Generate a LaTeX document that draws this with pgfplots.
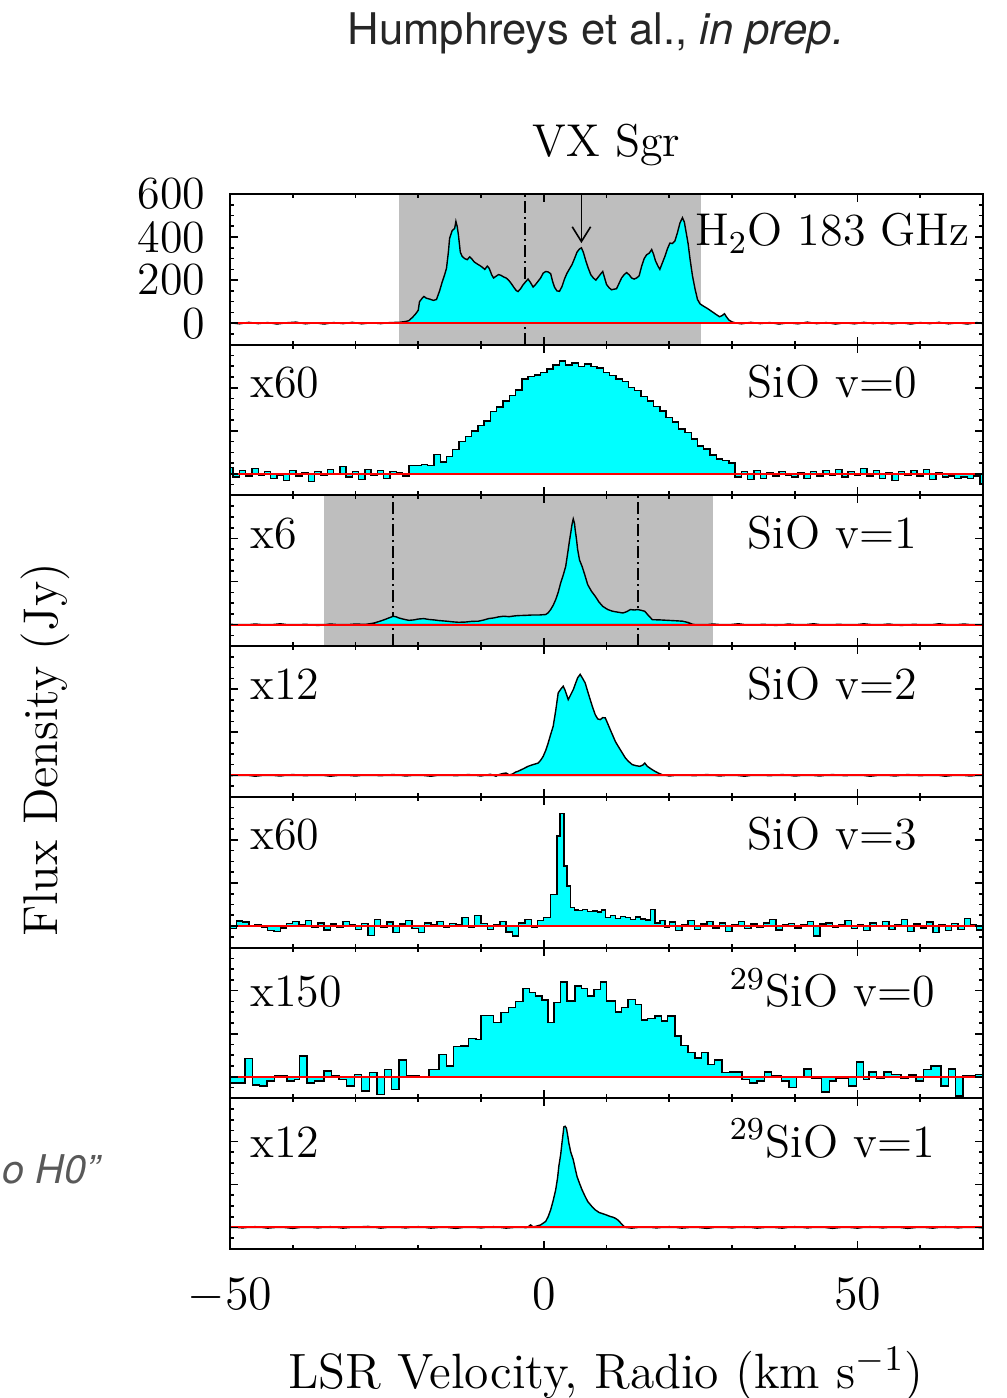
\documentclass[border=0pt]{standalone}
\usepackage{fontspec}
\newfontfamily\helv{TeX Gyre Heros}
\usepackage{pgfplots}
\pgfplotsset{compat=1.18}
\usetikzlibrary{arrows.meta}

\definecolor{bandgray}{RGB}{190,190,190}
\definecolor{specfill}{RGB}{0,255,255}
\newcommand\gfont{\fontsize{11.5}{13}\selectfont}

\pgfplotsset{
  spec panel/.style={
    at={(57.5pt,#1)}, anchor=north west,
    scale only axis, width=188.25pt, height=37.68pt,
    xmin=-50, xmax=70, ymin=-100, ymax=600,
    xtick={-50,0,50}, minor xtick={-40,-30,-20,-10,10,20,30,40,60},
    ytick={0,200,400,600},
    minor ytick={-50,50,100,150,250,300,350,450,500,550},
    xticklabels={}, yticklabels={},
    tick align=inside, xtick pos=both, ytick pos=both,
    major tick length=2pt, minor tick length=1pt,
    every tick/.append style={black, line width=0.4pt},
    axis line style={line width=0.5pt},
    axis on top, clip=true,
  },
  spectrum/.style={draw=black, fill=specfill, line width=0.35pt},
  histo/.style={draw=black, fill=specfill, line width=0.35pt, const plot mark left},
  zero line/.style={red, line width=0.5pt},
}
\tikzset{
  window/.style={dash pattern=on 3pt off 1pt on 0.5pt off 1pt, line width=0.4pt},
  lhs/.style={font=\gfont, anchor=base west, inner sep=0pt},
  rhs/.style={font=\gfont, anchor=base, inner sep=0pt},
}

\begin{document}
\begin{tikzpicture}
\path[use as bounding box] (0pt,0pt) rectangle (251.5pt,-349.5pt);

% ---------------- H2O 183 GHz ----------------
\begin{axis}[spec panel=-48.5pt,
  yticklabels={0,200,400,600},
  yticklabel style={font=\gfont, anchor=east, inner sep=0pt, xshift=-6pt}]
\fill[bandgray] (axis cs:-23,-100) rectangle (axis cs:25,600);
\draw[window] (axis cs:-3,-100) -- (axis cs:-3,600);
\addplot[spectrum] coordinates {
(-50,2) (-48.5,-3) (-47,4) (-45.5,-2) (-44,3) (-42.5,-4) (-41,2) (-39.5,5) (-38,-3)
(-36.5,2) (-35,-4) (-33.5,3) (-32,-2) (-30.5,4) (-29,-3) (-27.5,2) (-26,-2) (-24.5,3) (-23,4)
(-22,8) (-21.5,12) (-21,25) (-20.5,40) (-20,60) (-19.8,100) (-19.4,115) (-19.1,124) (-18.7,116)
(-18.2,112) (-17.6,106) (-17.1,110) (-16.6,150) (-16.2,190) (-15.8,225) (-15.5,255) (-15.2,330)
(-15,395) (-14.6,430) (-14.2,440) (-14,473) (-13.8,450) (-13.6,410) (-13.3,330) (-13,310)
(-12.6,300) (-12.2,295) (-11.8,308) (-11.5,300) (-11.1,285) (-10.6,275) (-10.2,268) (-9.8,260)
(-9.4,250) (-9,265) (-8.7,255) (-8.3,225) (-8,210) (-7.6,218) (-7.2,226) (-6.8,222) (-6.4,215)
(-6,210) (-5.6,200) (-5.2,185) (-4.8,168) (-4.4,152) (-4.1,147) (-3.7,160) (-3.3,178) (-2.9,192)
(-2.5,205) (-2.1,188) (-1.7,168) (-1.3,180) (-0.9,195) (-0.5,210) (-0.1,232) (0.3,240) (0.7,238)
(1.1,230) (1.4,195) (1.7,168) (2.1,150) (2.5,148) (2.9,170) (3.3,205) (3.7,232) (4.1,252)
(4.5,272) (4.9,300) (5.3,330) (5.7,345) (6.0,350) (6.3,330) (6.7,290) (7.1,255) (7.5,225)
(7.9,210) (8.3,200) (8.7,215) (9.1,230) (9.4,240) (9.7,210) (10,180) (10.4,165) (10.8,155)
(11.2,158) (11.6,160) (12,185) (12.4,210) (12.8,225) (13.2,235) (13.6,225) (14,210) (14.4,205)
(14.8,210) (15.2,220) (15.6,265) (16,300) (16.4,318) (16.8,325) (17.2,342) (17.5,320) (17.8,290)
(18.2,265) (18.5,250) (18.9,280) (19.3,310) (19.7,345) (20.1,372) (20.5,370) (20.9,382)
(21.3,420) (21.7,465) (22.1,490) (22.4,470) (22.7,420) (23,370) (23.3,300) (23.7,220) (24.1,160)
(24.5,110) (24.9,90) (25.3,82) (25.7,75) (26.1,68) (26.6,58) (27.1,48) (27.6,38) (28,30)
(28.4,35) (28.8,44) (29.1,30) (29.5,15) (30,6) (30.6,1)
(31.5,-3) (33,4) (34.5,-2) (36,3) (37.5,-4) (39,2) (40.5,-3) (42,5) (43.5,-2) (45,3) (46.5,-4)
(48,2) (49.5,-3) (51,4) (52.5,-2) (54,3) (55.5,-3) (57,2) (58.5,-4) (60,3) (61.5,-2) (63,4)
(64.5,-3) (66,2) (67.5,-4) (69,3) (70,-2)
} \closedcycle;
\addplot[zero line] coordinates {(-50,0) (70,0)};
\draw[line width=0.4pt, -{Straight Barb[length=3.7pt, width=4.6pt]}]
  (axis cs:6,600) -- (axis cs:6,372);
\node[rhs] at (rel axis cs:0.80,0.655) {H$_2$O 183 GHz};
\end{axis}

% ---------------- SiO v=0 ----------------
\begin{axis}[spec panel=-86.18pt]
\addplot[spectrum, const plot mark mid] coordinates {
(-50,30) (-49,-15) (-48,15) (-47,-10) (-46,25) (-45,-5) (-44,10) (-43,-20) (-42,-5) (-41,-30)
(-40,15) (-39,-10) (-38,5) (-37,-35) (-36,10) (-35,-5) (-34,20) (-33,0) (-32,35) (-31,-15)
(-30,10) (-29,-25) (-28,20) (-27,-5) (-26,15) (-25,-20) (-24,10) (-23,5) (-22,-10) (-21,40)
(-20,38) (-19,45) (-18,40) (-17,90) (-16,55) (-15,80) (-14,113) (-13,150) (-12,175) (-11,200)
(-10,225) (-9,245) (-8,290) (-7,310) (-6,338) (-5,365) (-4,390) (-3,440) (-2,452) (-1,460)
(0,470) (1,488) (2,505) (3,525) (4,505) (5,515) (6,500) (7,510) (8,498) (9,492)
(10,470) (11,458) (12,440) (13,428) (14,402) (15,388) (16,360) (17,338) (18,312) (19,292)
(20,262) (21,242) (22,208) (23,192) (24,162) (25,130) (26,115) (27,88) (28,70) (29,62)
(30,50) (31,-15) (32,10) (33,-25) (34,15) (35,-20) (36,5) (37,-10) (38,10) (39,-5)
(40,-15) (41,5) (42,-20) (43,10) (44,-10) (45,15) (46,-5) (47,20) (48,-15) (49,10)
(50,-5) (51,25) (52,-10) (53,15) (54,-20) (55,5) (56,-30) (57,10) (58,-5) (59,15)
(60,-10) (61,20) (62,-25) (63,5) (64,-15) (65,-10) (66,-20) (67,-15) (68,-20) (69,-10) (70,-45)
} \closedcycle;
\addplot[zero line] coordinates {(-50,0) (70,0)};
\node[lhs] at (rel axis cs:0.026,0.648) {x60};
\node[rhs] at (rel axis cs:0.80,0.648) {SiO v=0};
\end{axis}

% ---------------- SiO v=1 ----------------
\begin{axis}[spec panel=-123.86pt]
\fill[bandgray] (axis cs:-35,-100) rectangle (axis cs:27,600);
\draw[window] (axis cs:-24,-100) -- (axis cs:-24,600);
\draw[window] (axis cs:15,-100) -- (axis cs:15,600);
\addplot[spectrum] coordinates {
(-50,2) (-48,-3) (-46,3) (-44,-2) (-42,4) (-40,-3) (-38,2) (-36,-4) (-34,3) (-32,-2) (-30,3)
(-28.5,1) (-27.5,5) (-27,8) (-26.2,15) (-25.4,23) (-24.6,32) (-24,39) (-23.5,36) (-23.1,31)
(-22.3,25) (-21.5,20) (-20.7,22) (-20,26) (-19.1,28) (-18.3,24) (-17.5,22) (-16.7,19) (-15.5,16)
(-14.5,13) (-13.6,11) (-12.5,12) (-11.5,15) (-10.4,16) (-9.5,22) (-8.8,28) (-8,31) (-7.2,36)
(-6.4,39) (-5.5,37) (-4.8,40) (-4.1,42) (-3,43) (-1.7,45) (-0.6,45) (0.3,47) (0.7,55) (1.1,70)
(1.5,90) (1.9,116) (2.3,150) (2.7,194) (3.1,230) (3.5,271) (3.7,310) (3.9,349) (4.1,390)
(4.3,426) (4.5,465) (4.7,491) (4.9,470) (5.0,442) (5.2,400) (5.4,349) (5.7,300) (6.1,271)
(6.5,235) (7.0,186) (7.6,155) (8.2,132) (8.8,105) (9.4,85) (10.2,70) (11.0,62) (11.8,58)
(12.6,54) (13.2,60) (13.8,70) (14.4,68) (15.0,70) (15.6,66) (16.1,62) (16.6,45) (17.3,23)
(18.5,22) (19.7,20) (21,18) (22.1,16) (23,10) (23.7,2)
(25,-3) (27,3) (29,-2) (31,4) (33,-3) (35,2) (37,-4) (39,3) (41,-2) (43,4) (45,-3) (47,2)
(49,-3) (51,4) (53,-2) (55,3) (57,-4) (59,2) (61,-3) (63,4) (65,-2) (67,3) (69,-3) (70,2)
} \closedcycle;
\addplot[zero line] coordinates {(-50,0) (70,0)};
\node[lhs] at (rel axis cs:0.026,0.648) {x6};
\node[rhs] at (rel axis cs:0.80,0.648) {SiO v=1};
\end{axis}

% ---------------- SiO v=2 ----------------
\begin{axis}[spec panel=-161.54pt]
\addplot[spectrum] coordinates {
(-50,-2) (-48,3) (-46,-4) (-44,2) (-42,-3) (-40,4) (-38,-2) (-36,3) (-34,-4) (-32,2) (-30,-3)
(-28,3) (-26,-2) (-24,4) (-22,-3) (-20,2) (-18,-4) (-16,3) (-14,-2) (-12,4) (-10,-3) (-8.5,5)
(-7.6,-4) (-7.2,3) (-6.6,8) (-6,11) (-5.5,2) (-5,6) (-4.5,15) (-4.1,19) (-3.3,30) (-2.5,42)
(-1.7,50) (-0.9,57) (-0.5,70) (-0.1,88) (0.3,115) (0.7,150) (1.1,190) (1.5,228) (1.9,300)
(2.3,383) (2.7,400) (3.1,414) (3.4,395) (3.9,352) (4.3,375) (4.7,398) (5.1,430) (5.4,453)
(5.8,469) (6.2,450) (6.6,429) (7.0,390) (7.4,352) (7.8,315) (8.2,282) (8.6,262) (9.0,259)
(9.4,268) (9.8,267) (10.2,240) (10.6,212) (11.0,185) (11.4,158) (11.8,138) (12.2,119)
(12.6,100) (13,81) (13.5,65) (14.1,50) (14.7,45) (15.3,42) (15.8,48) (16.1,57) (16.5,42)
(17.1,30) (17.7,19) (18.3,10) (18.9,3)
(20,-3) (22,3) (24,-2) (26,4) (28,-3) (30,2) (32,-4) (34,3) (36,-2) (38,4) (40,-3) (42,2)
(44,-3) (46,4) (48,-2) (50,3) (52,-4) (54,2) (56,-3) (58,4) (60,-2) (62,3) (64,-4) (66,2)
(68,-3) (70,3)
} \closedcycle;
\addplot[zero line] coordinates {(-50,0) (70,0)};
\node[lhs] at (rel axis cs:0.026,0.648) {x12};
\node[rhs] at (rel axis cs:0.80,0.648) {SiO v=2};
\end{axis}

% ---------------- SiO v=3 ----------------
\begin{axis}[spec panel=-199.21pt]
\addplot[histo] coordinates {
(-50,-12) (-49,23) (-48,18) (-47,2) (-46,8) (-45,-5) (-44,-22) (-43,-25) (-42,-10) (-41,12)
(-40,20) (-39,8) (-38,25) (-37,-5) (-36,15) (-35,-18) (-34,10) (-33,-8) (-32,22) (-31,5)
(-30,-15) (-29,12) (-28,-43) (-27,31) (-26,-5) (-25,18) (-24,-30) (-23,10) (-22,25) (-21,-12)
(-20,-31) (-19,15) (-18,5) (-17,20) (-16,-8) (-15,12) (-14,5) (-13,39) (-12,-5) (-11,50)
(-10,12) (-9,-15) (-8,5) (-7,20) (-6,-28) (-5,-46) (-4,15) (-3,30) (-2,-8) (-1,25)
(0,40) (1.1,147) (2.1,419) (2.6,524) (3.2,279) (3.7,186) (4.3,85) (4.9,75) (5.5,72) (6.2,78)
(7.0,68) (7.8,70) (8.6,65) (9.2,74) (9.8,40) (10.6,50) (11.4,36) (12.2,45) (13.0,40) (13.8,30)
(14.6,42) (15.4,33) (16.2,28) (17.0,78) (17.7,15) (18.5,25) (19.3,-8)
(20,18) (21,-20) (22,5) (23,25) (24,-15) (25,10) (26,20) (27,-10) (28,15) (29,-25)
(30,8) (31,22) (32,-12) (33,10) (34,-5) (35,15) (36,30) (37,-18) (38,5) (39,12)
(40,-10) (41,8) (42,20) (43,-46) (44,10) (45,15) (46,-5) (47,8) (48,25) (49,-12)
(50,5) (51,-20) (52,15) (53,3) (54,22) (55,-15) (56,8) (57,30) (58,-25) (59,10)
(60,-10) (61,18) (62,-30) (63,5) (64,-20) (65,12) (66,-15) (67,35) (68,8) (69,-18) (70,-18)
} \closedcycle;
\addplot[zero line] coordinates {(-50,0) (70,0)};
\node[lhs] at (rel axis cs:0.026,0.648) {x60};
\node[rhs] at (rel axis cs:0.80,0.648) {SiO v=3};
\end{axis}

% ---------------- 29SiO v=0 ----------------
\begin{axis}[spec panel=-236.89pt]
\addplot[histo] coordinates {
(-50,-28) (-47.6,84) (-46.4,-39) (-45.3,-43) (-44.1,-20) (-42.9,3) (-40.9,-20) (-39.7,-14)
(-38.9,96) (-37.7,-28) (-36.5,-20) (-35.0,26) (-33.8,3) (-32.6,-12) (-31.4,-43) (-30.2,11)
(-29.0,-67) (-27.8,19) (-26.6,-82) (-25.4,34) (-24.3,-59) (-23.1,78) (-21.9,6) (-19.9,0)
(-18.3,34) (-16.7,104) (-15.5,50) (-14.4,140) (-13.2,143) (-12.0,178) (-10.8,172) (-10.0,285)
(-8.0,251) (-6.8,298) (-5.6,321) (-4.5,349) (-3.3,411) (-2.3,391) (-1.3,375) (-0.3,357)
(0.7,251) (1.6,344) (2.7,440) (3.7,352) (5.0,422) (6.0,411) (7.0,375) (8.0,406) (9.0,440)
(10.0,352) (11.4,301) (12.4,321) (13.4,360) (14.6,336) (15.6,264) (16.5,271) (17.7,282)
(18.8,259) (19.7,282) (20.9,189) (21.9,146) (23.0,112) (24.1,88) (25.1,112) (26.2,57)
(27.2,78) (28.4,19) (29.6,22) (31.6,-12) (32.8,-28) (34.0,-20) (35.2,22) (36.3,3) (37.9,-19)
(39.1,-51) (40.3,0) (41.5,37) (42.7,-5) (44.3,-71) (45.5,-20) (46.6,-9) (48.6,-43) (49.8,68)
(51.0,-12) (51.8,22) (53.0,-5) (54.2,22) (55.4,11) (56.9,-5) (58.1,8) (59.3,-20) (60.5,34)
(61.7,50) (63.3,-43) (64.5,37) (65.6,-90) (66.8,3) (68.8,11) (70,11)
} \closedcycle;
\addplot[zero line] coordinates {(-50,0) (70,0)};
\node[lhs] at (rel axis cs:0.026,0.608) {x150};
\node[rhs] at (rel axis cs:0.80,0.608) {$^{29}$SiO v=0};
\end{axis}

% ---------------- 29SiO v=1 ----------------
\begin{axis}[spec panel=-274.57pt,
  xticklabels={$-50$,$0$,$50$},
  xticklabel style={font=\gfont, anchor=base, yshift=-15pt}]
\addplot[spectrum] coordinates {
(-50,3) (-48,-2) (-46,4) (-44,-3) (-42,2) (-40,-4) (-38,3) (-36,-2) (-34,4) (-32,-3) (-30,2)
(-28,5) (-26,-3) (-24,3) (-22,-2) (-20,4) (-18,-3) (-16,2) (-14,-4) (-12,3) (-10,-2) (-8,4)
(-6,-3) (-4,2) (-2.8,-1) (-2.5,3) (-2.1,12) (-1.7,3) (-1.3,5) (-0.5,12) (0.3,28) (0.7,50)
(1.1,82) (1.5,125) (1.9,175) (2.2,230) (2.4,284) (2.7,340) (2.9,392) (3.1,440) (3.2,467)
(3.4,470) (3.6,462) (3.8,430) (4.0,392) (4.3,350) (4.7,315) (5.0,275) (5.3,237) (5.7,205)
(6.1,175) (6.5,150) (7.0,121) (7.6,100) (8.2,82) (8.8,70) (9.4,64) (10.0,58) (10.6,51)
(11.0,48) (11.4,43) (11.8,35) (12.2,23) (12.6,10) (13.0,0)
(14,-3) (16,3) (18,-2) (20,4) (22,-3) (24,2) (26,-4) (28,3) (30,-2) (32,4) (34,-3) (36,2)
(38,-3) (40,4) (42,-2) (44,3) (46,-4) (48,2) (50,-3) (52,4) (54,-2) (56,3) (58,-4) (60,2)
(62,-3) (64,4) (66,-2) (68,3) (70,-2)
} \closedcycle;
\addplot[zero line] coordinates {(-50,0) (70,0)};
\node[lhs] at (rel axis cs:0.026,0.608) {x12};
\node[rhs] at (rel axis cs:0.80,0.608) {$^{29}$SiO v=1};
\end{axis}

% ---------------- titles and axis labels ----------------
\node[font={\helv\fontsize{10.9}{13}\selectfont}, text=black!85, anchor=base]
  at (149pt,-11.25pt) {Humphreys et al., \textit{in prep.}};
\node[font=\gfont, anchor=base] at (151.6pt,-39.25pt) {VX Sgr};
\node[font={\fontsize{12.2}{14}\selectfont}, rotate=90, anchor=center]
  at (11.25pt,-187.5pt) {Flux Density (Jy)};
\node[font={\fontsize{12.4}{14}\selectfont}, anchor=base]
  at (151.5pt,-347pt) {LSR Velocity, Radio (km s$^{-1}$)};
\node[font={\helv\itshape\fontsize{9.9}{12}\selectfont}, text=black!65, anchor=base west,
  inner sep=0pt] at (0.4pt,-295.75pt) {o H0”};
\end{tikzpicture}
\end{document}
